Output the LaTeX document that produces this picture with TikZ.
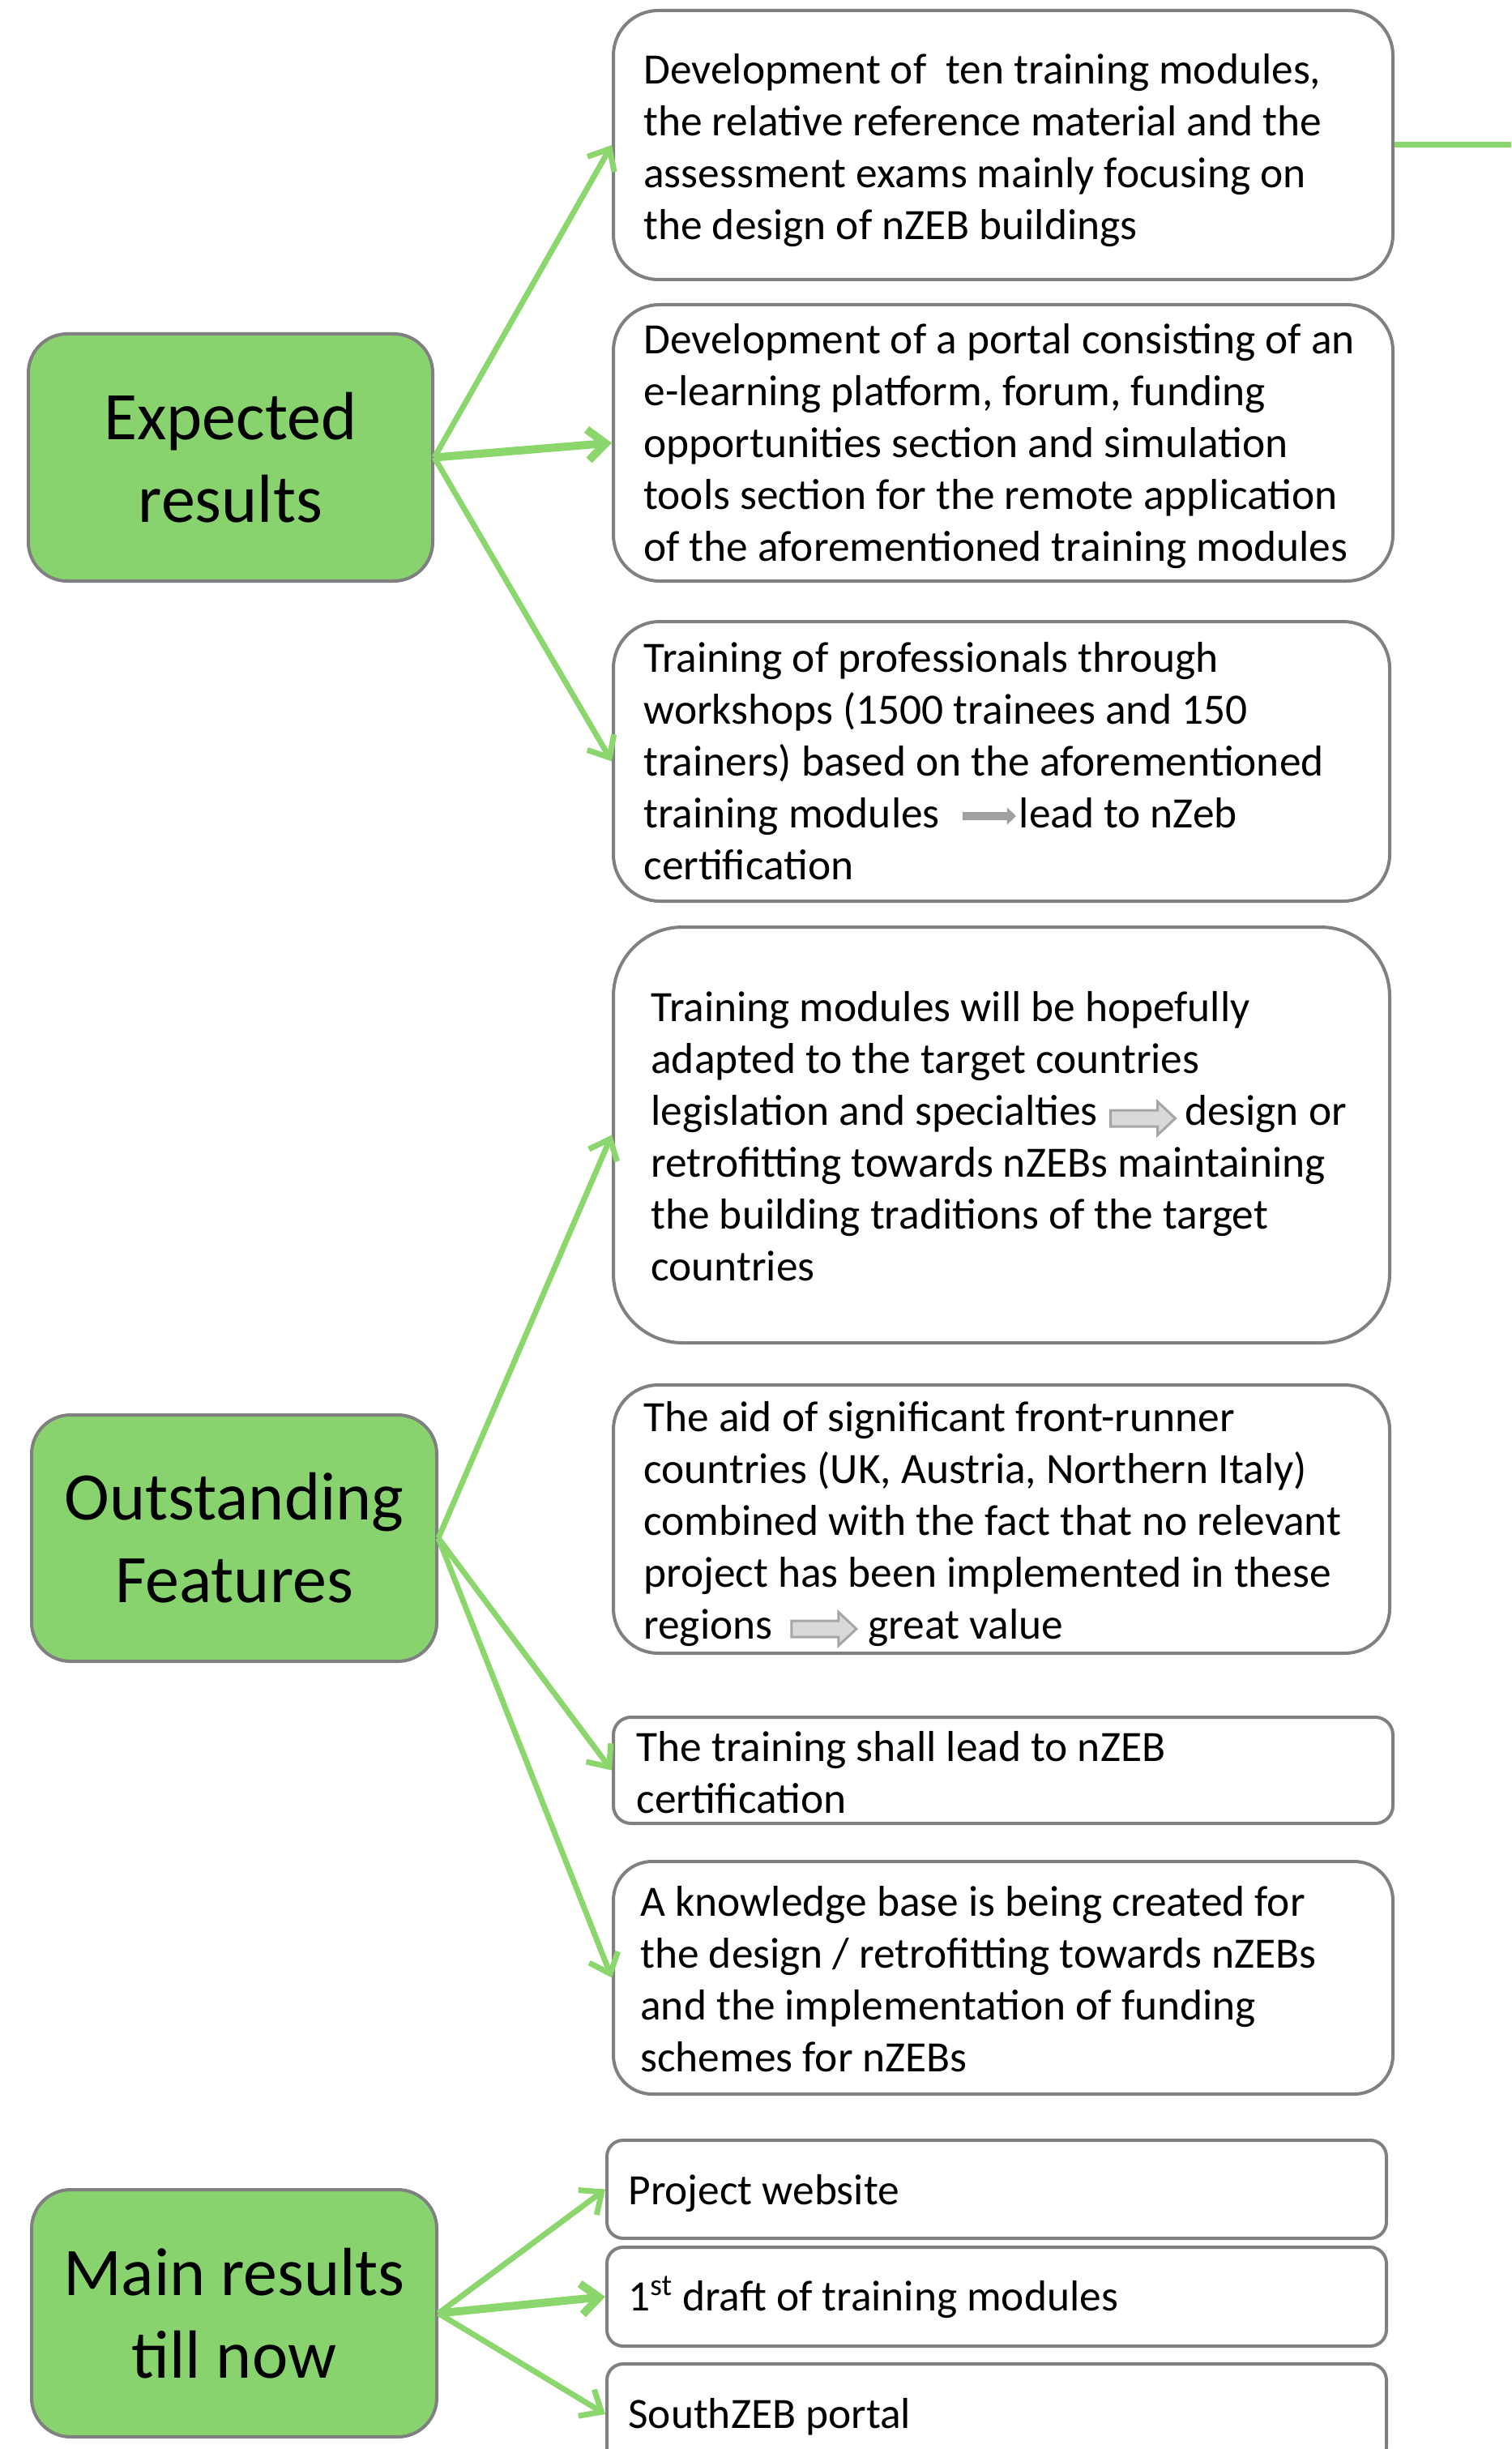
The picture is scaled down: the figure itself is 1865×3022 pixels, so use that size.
\documentclass[tikz,border=0pt]{standalone}
\usepackage{fontspec}
\setmainfont{Carlito}
\usetikzlibrary{arrows.meta}
\definecolor{gfill}{RGB}{136,211,110}
\definecolor{gline}{RGB}{140,214,110}
\definecolor{bgray}{RGB}{128,128,128}
\definecolor{agray}{RGB}{160,160,160}
\definecolor{hfill}{RGB}{217,217,217}
\definecolor{hline}{RGB}{166,166,166}
\newcommand\solidarr{\tikz[baseline={(0pt,-7pt)},x=1pt,y=1pt]\fill[agray] (0,2.5)--(27.5,2.5)--(27.5,5.4)--(33,0)--(27.5,-5.4)--(27.5,-2.5)--(0,-2.5)--cycle;}
\newcommand\hollowarr[1]{\tikz[baseline={(0pt,-#1)},x=1pt,y=1pt]\draw[hline,fill=hfill,line width=1.5pt,line join=miter] (0,5)--(29,5)--(29,10.3)--(40,0)--(29,-10.3)--(29,-5)--(0,-5)--cycle;}
\begin{document}
\begin{tikzpicture}[x=0.5pt,y=-0.5pt,
  gbox/.style={draw=bgray,line width=2pt,fill=gfill,rounded corners=24pt,inner sep=0pt,minimum width=250pt,minimum height=152.5pt,align=center,font=\fontsize{42}{51}\selectfont},
  wbox/.style={draw=bgray,line width=2pt,fill=white,inner sep=0pt,minimum width=481pt},
  txt/.style={anchor=base west,align=left,inner sep=0pt,font=\fontsize{26.7}{32}\selectfont},
  conn/.style={draw=gline,line width=3.5pt,-{Straight Barb[length=11pt,width=19pt]}},
  thick conn/.style={conn,line width=5pt}]
\useasboundingbox (0,0) rectangle (1865,3022);
% white boxes
\node[wbox,minimum height=166pt,rounded corners=27.7pt] (b1) at (1238,179) {};
\node[wbox,minimum height=170.5pt,rounded corners=28.4pt] (b2) at (1238,546.5) {};
\node[wbox,minimum width=479pt,minimum height=172.5pt,rounded corners=28.7pt] (b3) at (1236,939.5) {};
\node[wbox,minimum width=479pt,minimum height=256.5pt,rounded corners=42.7pt] (b4) at (1236,1400.5) {};
\node[wbox,minimum width=479pt,minimum height=165.5pt,rounded corners=27.6pt] (b5) at (1236,1874.5) {};
\node[wbox,minimum height=65.5pt,rounded corners=10.9pt] (b6) at (1238,2184.5) {};
\node[wbox,minimum height=143.5pt,rounded corners=23.9pt] (b7) at (1238,2440.5) {};
\node[wbox,minimum height=60.5pt,rounded corners=10pt] (b8) at (1230,2701.5) {};
\node[wbox,minimum height=61pt,rounded corners=10pt] (b9) at (1230,2834) {};
\node[wbox,minimum height=62pt,rounded corners=10pt] (b10) at (1230,2979) {};
% texts (anchored at the baseline of their last line)
\node[txt] (t1) at (794,296) {Development of\ \ ten training modules,\\the relative reference material and the\\assessment exams mainly focusing on\\the design of nZEB buildings};
\node[txt] (t2) at (794,692) {Development of a portal consisting of an\\e-learning platform, forum, funding\\opportunities section and simulation\\tools section for the remote application\\of the aforementioned training modules};
\node[txt] (t3) at (794,1085) {Training of professionals through\\workshops (1500 trainees and 150\\trainers) based on the aforementioned\\training modules\hspace{14pt}\solidarr\hspace{2pt}lead to nZeb\\certification};
\node[txt] (t4) at (803,1580) {Training modules will be hopefully\\adapted to the target countries\\legislation and specialties\hspace{7pt}\hollowarr{4pt}\hspace{5pt}design or\\retrofitting towards nZEBs maintaining\\the building traditions of the target\\countries};
\node[txt] (t5) at (794,2022) {The aid of significant front-runner\\countries (UK, Austria, Northern Italy)\\combined with the fact that no relevant\\project has been implemented in these\\regions\hspace{11pt}\hollowarr{6pt}\hspace{6.5pt}great value};
\node[txt] (t6) at (785,2237) {The training shall lead to nZEB\\certification};
\node[txt] (t7) at (790,2556) {A knowledge base is being created for\\the design / retrofitting towards nZEBs\\and the implementation of funding\\schemes for nZEBs};
\node[txt] (t8) at (775,2720) {Project website};
\node[txt] (t9) at (775,2851) {1\textsuperscript{st} draft of training modules};
\node[txt] (t10) at (775,2996) {SouthZEB portal};
% green boxes
\node[gbox,minimum width=249.5pt] (g1) at (284.5,564.5) {Expected\\results};
\node[gbox,minimum height=152pt] (g2) at (289,1898) {Outstanding\\Features};
\node[gbox] (g3) at (289,2854.5) {Main results\\till now};
% connectors
\draw[conn] (g1.east) -- (b1.west);
\draw[thick conn] (g1.east) -- (b2.west);
\draw[conn] (g1.east) -- (b3.west);
\draw[conn] (g2.east) -- (b4.west);
\draw[conn] (g2.east) -- (b6.west);
\draw[conn] (g2.east) -- (b7.west);
\draw[conn] (g3.east) -- (b8.west);
\draw[thick conn] (g3.east) -- (b9.west);
\draw[conn] (g3.east) -- (b10.west);
\coordinate (offR) at (1865,179);
\draw[draw=gline,line width=3.5pt] (b1.east) -- (offR);
\end{tikzpicture}
\end{document}
